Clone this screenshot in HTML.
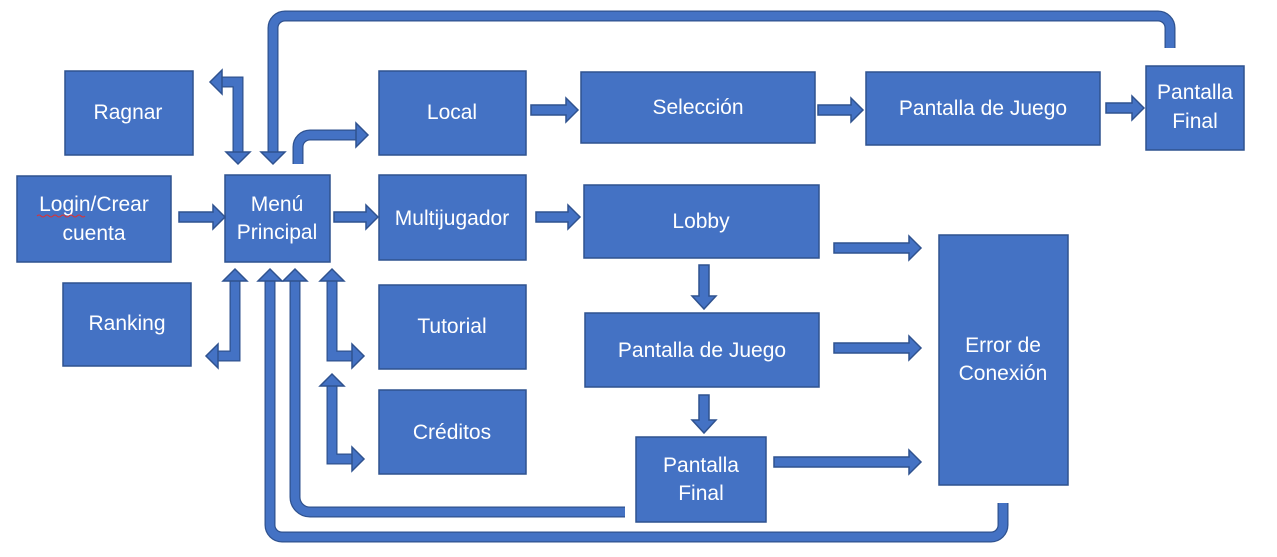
<!DOCTYPE html>
<html><head><meta charset="utf-8"><style>
html,body{margin:0;padding:0;background:#fff;width:1277px;height:557px;overflow:hidden}
svg{display:block}
text{font-family:"Liberation Sans",sans-serif;font-size:21px;fill:#fff;text-anchor:middle}
.b{fill:#4472C4;stroke:#2F528F;stroke-width:1.5}
.o{fill:none;stroke:#2F528F;stroke-width:11}
.i{fill:none;stroke:#4472C4;stroke-width:8.5}
</style></head><body>
<svg width="1277" height="557" viewBox="0 0 1277 557">
<rect class="b" x="65" y="71" width="128" height="84"/>
<rect class="b" x="17" y="176" width="154" height="86"/>
<rect class="b" x="63" y="283" width="128" height="83"/>
<rect class="b" x="225" y="175" width="105" height="87"/>
<rect class="b" x="379" y="71" width="147" height="84"/>
<rect class="b" x="379" y="175" width="147" height="85"/>
<rect class="b" x="379" y="285" width="147" height="84"/>
<rect class="b" x="379" y="390" width="147" height="84"/>
<rect class="b" x="581" y="72" width="234" height="71"/>
<rect class="b" x="866" y="72" width="234" height="73"/>
<rect class="b" x="1146" y="66" width="98" height="84"/>
<rect class="b" x="584" y="185" width="235" height="73"/>
<rect class="b" x="585" y="313" width="234" height="74"/>
<rect class="b" x="636" y="437" width="130" height="85"/>
<rect class="b" x="939" y="235" width="129" height="250"/>

<g>
<path class="o" d="M238,152 V82 H222"/><path class="i" d="M238,152 V82 H222"/>
<path class="o" d="M1170,48 V28 A12 12 0 0 0 1158,16 H285 A12 12 0 0 0 273,28 V152"/><path class="i" d="M1170,48 V28 A12 12 0 0 0 1158,16 H285 A12 12 0 0 0 273,28 V152"/>
<path class="o" d="M298,164 V147 A12 12 0 0 1 310,135 H356"/><path class="i" d="M298,164 V147 A12 12 0 0 1 310,135 H356"/>
<path class="o" d="M235,281 V356 H218"/><path class="i" d="M235,281 V356 H218"/>
<path class="o" d="M332,281 V356 H352"/><path class="i" d="M332,281 V356 H352"/>
<path class="o" d="M332,386 V459 H352"/><path class="i" d="M332,386 V459 H352"/>
<path class="o" d="M625,512 H310 A15 15 0 0 1 295,497 V281"/><path class="i" d="M625,512 H310 A15 15 0 0 1 295,497 V281"/>
<path class="o" d="M1003,503 V525 A12 12 0 0 1 991,537 H282 A12 12 0 0 1 270,525 V281"/><path class="i" d="M1003,503 V525 A12 12 0 0 1 991,537 H282 A12 12 0 0 1 270,525 V281"/>
</g>
<g class="b">
<polygon points="226,152 250,152 238,164"/>
<polygon points="222,70 222,94 210,82"/>
<polygon points="261,152 285,152 273,164"/>
<polygon points="356,123 356,147 368,135"/>
<polygon points="223,281 247,281 235,269"/>
<polygon points="218,344 218,368 206,356"/>
<polygon points="320,281 344,281 332,269"/>
<polygon points="352,344 352,368 364,356"/>
<polygon points="320,386 344,386 332,374"/>
<polygon points="352,447 352,471 364,459"/>
<polygon points="283,281 307,281 295,269"/>
<polygon points="258,281 282,281 270,269"/>
<polygon points="179,212 213,212 213,205 225,217 213,229 213,222 179,222"/>
<polygon points="334,212 366,212 366,205 378,217 366,229 366,222 334,222"/>
<polygon points="536,212 568,212 568,205 580,217 568,229 568,222 536,222"/>
<polygon points="531,105 566,105 566,98 578,110 566,122 566,115 531,115"/>
<polygon points="818,105 851,105 851,98 863,110 851,122 851,115 818,115"/>
<polygon points="1106,103 1132,103 1132,96 1144,108 1132,120 1132,113 1106,113"/>
<polygon points="834,243 909,243 909,236 921,248 909,260 909,253 834,253"/>
<polygon points="834,343 909,343 909,336 921,348 909,360 909,353 834,353"/>
<polygon points="774,457 909,457 909,450 921,462 909,474 909,467 774,467"/>
<polygon points="699,265 709,265 709,296 716,296 704,309 692,296 699,296"/>
<polygon points="699,395 709,395 709,420 716,420 704,433 692,420 699,420"/>
</g>
<text x="128" y="119">Ragnar</text>
<text x="94" y="211">Login/Crear</text>
<text x="94" y="240">cuenta</text>
<path d="M37,216 q2,-2 4,0 t4,0 t4,0 t4,0 t4,0 t4,0 t4,0 t4,0 t4,0 t4,0 t4,0 t4,0" fill="none" stroke="#e03030" stroke-width="1"/>
<text x="127" y="330">Ranking</text>
<text x="277" y="211">Menú</text>
<text x="277" y="239">Principal</text>
<text x="452" y="119">Local</text>
<text x="452" y="225">Multijugador</text>
<text x="452" y="333">Tutorial</text>
<text x="452" y="439">Créditos</text>
<text x="698" y="114">Selección</text>
<text x="983" y="115">Pantalla de Juego</text>
<text x="1195" y="99">Pantalla</text>
<text x="1195" y="128">Final</text>
<text x="701" y="228">Lobby</text>
<text x="702" y="357">Pantalla de Juego</text>
<text x="701" y="472">Pantalla</text>
<text x="701" y="500">Final</text>
<text x="1003" y="352">Error de</text>
<text x="1003" y="380">Conexión</text>
</svg>
</body></html>
